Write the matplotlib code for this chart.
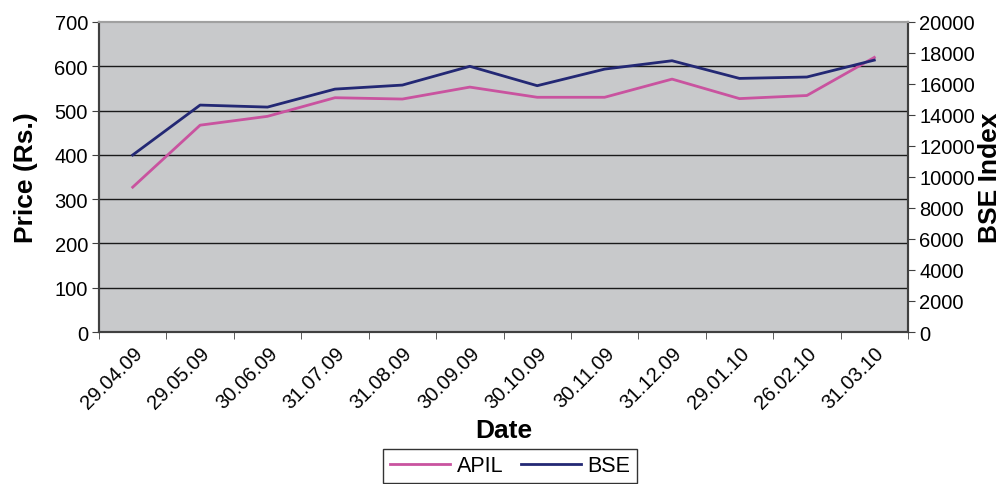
import matplotlib.pyplot as plt
import numpy as np

plt.rcParams['font.family'] = ['Liberation Sans', 'DejaVu Sans']

dates = ["29.04.09", "29.05.09", "30.06.09", "31.07.09", "31.08.09", "30.09.09",
         "30.10.09", "30.11.09", "31.12.09", "29.01.10", "26.02.10", "31.03.10"]
apil = [327, 467, 487, 529, 526, 553, 530, 530, 571, 527, 534, 620]
bse = [11420, 14640, 14510, 15670, 15930, 17140, 15890, 16960, 17500, 16360, 16450, 17540]

fig = plt.figure(figsize=(10.06, 4.85), dpi=100)
ax = fig.add_axes([0.0984, 0.3134, 0.8042, 0.6392])
ax2 = ax.twinx()

x = np.arange(len(dates))
ax.set_facecolor("#c8c9cb")
ax.set_xlim(-0.5, len(dates) - 0.5)
ax.set_ylim(0, 700)
ax.set_yticks(range(0, 701, 100))
ax2.set_ylim(0, 20000)
ax2.set_yticks(range(0, 20001, 2000))

for v in range(100, 700, 100):
    ax.axhline(v, color="#1a1a1a", lw=1.0, zorder=1)

l1, = ax.plot(x, apil, color="#c9539f", lw=2, zorder=3, label="APIL")
l2, = ax2.plot(x, bse, color="#232874", lw=2, zorder=3, label="BSE")

ax.set_xticks(x)
ax.set_xticklabels(dates, rotation=45, ha="right", rotation_mode="anchor", fontsize=14.5)
ax.tick_params(axis="x", length=0, pad=8)
ax.set_xticks(np.arange(-0.5, len(dates), 1), minor=True)
ax.tick_params(axis="x", which="minor", length=5, color="#404040")
ax.tick_params(axis="y", labelsize=14.5, length=5, color="#404040", pad=3)
ax2.tick_params(axis="y", labelsize=14.5, length=5, color="#404040", pad=3)

for a in (ax, ax2):
    a.spines["top"].set_color("#a0a0a0")
    a.spines["left"].set_color("#404040")
    a.spines["right"].set_color("#404040")
    a.spines["bottom"].set_color("#404040")
    for s in a.spines.values():
        s.set_linewidth(1.5)

ax.set_ylabel("Price (Rs.)", fontsize=19, fontweight="bold", labelpad=12)
ax2.set_ylabel("BSE Index", fontsize=19, fontweight="bold", labelpad=2)
ax.set_xlabel("Date", fontsize=19, fontweight="bold", labelpad=4)

leg = fig.legend(handles=[l1, l2], loc="lower center", bbox_to_anchor=(0.507, -0.02),
                 ncol=2, fontsize=15.5, frameon=True, fancybox=False, edgecolor="black",
                 handlelength=2.8, columnspacing=0.8, handletextpad=0.3, borderpad=0.3)
leg.get_frame().set_linewidth(1.0)

fig.savefig("out.png", dpi=100)
